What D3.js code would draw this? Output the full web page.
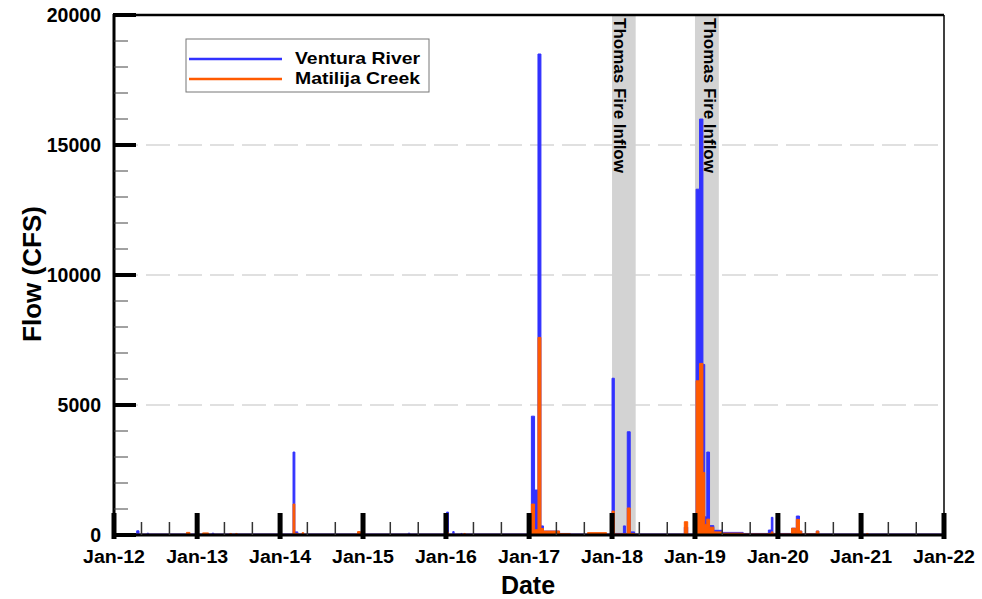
<!DOCTYPE html>
<html><head><meta charset="utf-8">
<script src="https://cdn.jsdelivr.net/npm/d3@7"></script>
<style>
html,body{margin:0;padding:0;background:#fff;}
text{font-family:"Liberation Sans",Arial,Helvetica,sans-serif;font-weight:bold;fill:#000;}
</style></head>
<body><svg id="chart" width="982" height="599"></svg>
<script>
// ---- data (step records: value holds from its date until the next date) ----
const venturaDates = ["2012-01-01","2012-04-10","2012-04-20","2012-05-26","2012-06-01","2013-03-08","2013-03-15",
 "2014-02-27","2014-03-07","2014-03-20","2014-12-12","2014-12-20","2015-07-19","2015-07-26",
 "2016-01-04","2016-01-12","2016-01-31","2016-02-06","2016-03-07","2016-03-12",
 "2017-01-11","2017-01-25","2017-02-09","2017-02-22","2017-03-05","2017-05-15","2017-07-01",
 "2018-01-01","2018-01-11","2018-02-20","2018-03-01","2018-03-09","2018-03-22","2018-04-10",
 "2018-11-15","2018-11-30",
 "2019-01-06","2019-01-21","2019-02-05","2019-02-13","2019-02-22","2019-03-06","2019-03-25","2019-05-01","2019-08-01",
 "2019-11-20","2019-12-03","2019-12-10",
 "2020-03-01","2020-03-19","2020-03-22","2020-04-05","2020-04-15","2020-06-18","2020-06-29","2022-01-01"];
const venturaFlow = [40,160,40,70,40,70,40,
 3190,120,40,120,40,70,40,
 880,40,130,40,60,40,
 4570,1730,18500,350,150,60,40,
 6030,60,350,60,3970,120,40,
 300,40,
 13300,16000,6560,700,3190,360,180,100,60,
 190,680,60,
 260,60,730,150,50,150,40,40];

const matilijaDates = ["2012-01-01","2012-11-15","2012-11-30","2013-01-25","2013-02-20","2013-05-25","2013-06-01","2013-06-20","2013-06-26",
 "2014-02-27","2014-03-07","2014-03-20","2014-04-08","2014-04-15","2014-12-08","2014-12-20",
 "2016-01-04","2016-01-12","2016-03-20","2016-03-26",
 "2017-01-11","2017-01-25","2017-02-09","2017-02-22","2017-03-05","2017-05-15","2017-07-01","2017-09-15","2017-12-08",
 "2018-01-01","2018-01-11","2018-03-09","2018-03-22","2018-04-10","2018-11-15","2018-11-30",
 "2019-01-06","2019-01-21","2019-02-05","2019-02-13","2019-02-22","2019-03-06","2019-03-25","2019-05-01","2019-08-01",
 "2019-11-20","2019-12-03","2019-12-10",
 "2020-03-01","2020-03-19","2020-03-22","2020-04-05","2020-04-15","2020-06-18","2020-06-29",
 "2021-01-25","2021-02-01","2022-01-01"];
const matilijaFlow = [25,100,25,80,25,60,25,60,25,
 1190,60,25,90,25,130,25,
 100,25,60,25,
 1190,200,7600,250,150,50,25,90,25,
 920,40,1040,60,25,510,25,
 5930,6600,2400,400,610,300,120,70,40,
 60,120,40,
 260,40,600,150,40,150,25,
 60,25,25];

const seriesNames = ["Ventura River","Matilija Creek"];
const seriesColors = ["#3232ff","#ff5a00"];
const yearTicks = ["2012-01-01","2013-01-01","2014-01-01","2015-01-01","2016-01-01","2017-01-01","2018-01-01","2019-01-01","2020-01-01","2021-01-01","2022-01-01"];
const xTickLabels = ["Jan-12","Jan-13","Jan-14","Jan-15","Jan-16","Jan-17","Jan-18","Jan-19","Jan-20","Jan-21","Jan-22"];
const yTicks = [0,5000,10000,15000,20000];
const gridValues = [5000,10000,15000];
const shadeStarts = ["2018-01-01","2019-01-01"];
const shadeEnds = ["2018-04-15","2019-04-16"];
const shadeLabel = "Thomas Fire Inflow";

// ---- layout ----
const parse = d3.timeParse("%Y-%m-%d");
const L = 114, R = 944, T = 15, B = 535;
const svg = d3.select("#chart");
const x = d3.scaleTime().domain([parse("2012-01-01"), parse("2022-01-01")]).range([L, R]);
const y = d3.scaleLinear().domain([0, 20000]).range([B, T]);

svg.append("defs").append("clipPath").attr("id","plotclip")
  .append("rect").attr("x",L).attr("y",T).attr("width",R-L).attr("height",B-T);

// gridlines
svg.append("g").selectAll("line").data(gridValues).join("line")
  .attr("x1",L).attr("x2",R).attr("y1",d=>y(d)).attr("y2",d=>y(d))
  .attr("stroke","#d6d6d6").attr("stroke-width",1.5).attr("stroke-dasharray","24,8");

// shades
svg.append("g").selectAll("rect").data(shadeStarts).join("rect")
  .attr("x",(d)=>x(parse(d)))
  .attr("width",(d,i)=>x(parse(shadeEnds[i]))-x(parse(d)))
  .attr("y",T).attr("height",B-T).attr("fill","#d3d3d3");

// series
function build(dates, vals){ return dates.map((d,i)=>({date:parse(d), v:vals[i]})); }
const seriesData = [build(venturaDates, venturaFlow), build(matilijaDates, matilijaFlow)];
const area = d3.area().curve(d3.curveStepAfter).x(d=>x(d.date)).y0(y(0)).y1(d=>y(d.v));
const line = d3.line().curve(d3.curveStepAfter).x(d=>x(d.date)).y(d=>y(d.v));
const gData = svg.append("g").attr("clip-path","url(#plotclip)");
seriesData.forEach((s,i)=>{
  gData.append("path").datum(s).attr("d",area).attr("fill",seriesColors[i]);
  gData.append("path").datum(s).attr("d",line).attr("fill","none").attr("stroke",seriesColors[i]).attr("stroke-width",1);
});

// shade labels
const shadeTextOffsets = [2, 9];
svg.append("g").selectAll("text").data(shadeStarts).join("text")
  .attr("transform",(d,i)=>`translate(${x(parse(d))+shadeTextOffsets[i]},${T+3}) rotate(90)`)
  .attr("font-size",16.5).attr("textLength",155).attr("lengthAdjust","spacingAndGlyphs").text(shadeLabel);

// frame
svg.append("line").attr("x1",L).attr("x2",R).attr("y1",T).attr("y2",T).attr("stroke","#000").attr("stroke-width",2.5);
svg.append("line").attr("x1",R).attr("x2",R).attr("y1",T).attr("y2",B).attr("stroke","#000").attr("stroke-width",1.5);
svg.append("line").attr("x1",L-1.5).attr("x2",R+1).attr("y1",B).attr("y2",B).attr("stroke","#000").attr("stroke-width",3);
svg.append("line").attr("x1",L).attr("x2",L).attr("y1",T-1).attr("y2",B+2).attr("stroke","#000").attr("stroke-width",3);

// y minor ticks
const yMinor = d3.range(1000, 20000, 1000).filter(v=>v%5000!==0);
svg.append("g").selectAll("line").data(yMinor).join("line")
  .attr("x1",L).attr("x2",L+14).attr("y1",d=>y(d)).attr("y2",d=>y(d))
  .attr("stroke","#444").attr("stroke-width",1);
// y major ticks
svg.append("g").selectAll("line").data(yTicks).join("line")
  .attr("x1",L-1).attr("x2",L+22).attr("y1",d=>y(d)).attr("y2",d=>y(d))
  .attr("stroke","#000").attr("stroke-width",4);
// y labels
svg.append("g").selectAll("text").data(yTicks).join("text")
  .attr("x",101).attr("y",d=>y(d)+7).attr("text-anchor","end").attr("font-size",19.5).text(d=>d);

// x minor ticks (May, Sep)
const xMinor = [];
yearTicks.slice(0,-1).forEach(d=>{ const yr=+d.slice(0,4); xMinor.push(new Date(yr,4,1), new Date(yr,8,1)); });
svg.append("g").selectAll("line").data(xMinor).join("line")
  .attr("x1",d=>x(d)).attr("x2",d=>x(d)).attr("y1",B-13).attr("y2",B)
  .attr("stroke","#333").attr("stroke-width",1.5);
// x major ticks
svg.append("g").selectAll("line").data(yearTicks).join("line")
  .attr("x1",d=>x(parse(d))).attr("x2",d=>x(parse(d))).attr("y1",B-22).attr("y2",B+4)
  .attr("stroke","#000").attr("stroke-width",5);
// x labels
svg.append("g").selectAll("text").data(yearTicks).join("text")
  .attr("x",d=>x(parse(d))).attr("y",563).attr("text-anchor","middle").attr("font-size",18)
  .attr("textLength",62).attr("lengthAdjust","spacingAndGlyphs")
  .text((d,i)=>xTickLabels[i]);

// axis titles
svg.append("text").attr("x",528).attr("y",594).attr("text-anchor","middle").attr("font-size",25).text("Date");
svg.append("text").attr("transform","translate(41,274) rotate(-90)").attr("text-anchor","middle").attr("font-size",26).text("Flow (CFS)");

// legend
const lg = svg.append("g");
lg.append("rect").attr("x",186).attr("y",39).attr("width",243).attr("height",53)
  .attr("fill","#fff").attr("stroke","#777").attr("stroke-width",1);
const legY = [59, 79];
seriesNames.forEach((n,i)=>{
  lg.append("line").attr("x1",189).attr("x2",282).attr("y1",legY[i]).attr("y2",legY[i])
    .attr("stroke",seriesColors[i]).attr("stroke-width",2.5);
  lg.append("text").attr("x",295).attr("y",legY[i]+5).attr("font-size",17)
    .attr("textLength",125).attr("lengthAdjust","spacingAndGlyphs").text(n);
});
</script></body></html>
